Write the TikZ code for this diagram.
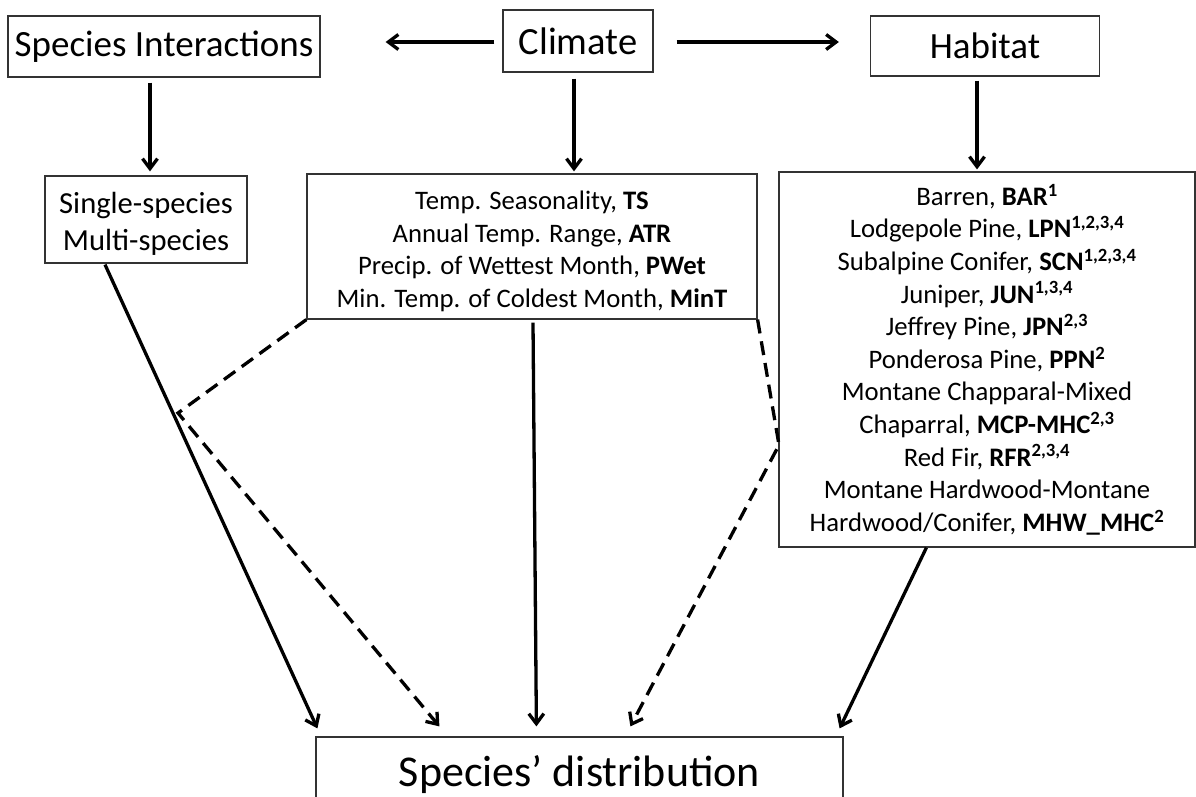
\documentclass[tikz,border=0pt]{standalone}
\usepackage{fontspec}
\setmainfont{Carlito}
\usetikzlibrary{arrows.meta,calc}

\begin{document}
\begin{tikzpicture}[x=1pt,y=-1pt,
  box/.style={draw=black!80, line width=1.2pt, inner sep=0pt, align=center},
  arr/.style={line width=3.3pt, -{Straight Barb[length=10pt,width=15pt]}},
  dsh/.style={arr, dash pattern=on 14pt off 8pt},
  big/.style={font=\fontsize{37}{44}\selectfont},
  huge/.style={font=\fontsize{44}{52}\selectfont},
  mid/.style={font=\fontsize{26.7}{32.6}\selectfont},
  midl/.style={font=\fontsize{30.6}{37}\selectfont},
]
\useasboundingbox (0,0) rectangle (1196,797);
\clip (0,0) rectangle (1196,797);

% top row
\node[box,big,minimum width=312pt,minimum height=61pt] (si) at (164,46.5) {Species Interactions};
\node[box,big,font=\fontsize{38.5}{44}\selectfont,minimum width=150pt,minimum height=62pt] (clim) at (578,41) {Climate};
\node[box,big,minimum width=229pt,minimum height=60pt] (hab) at (985,46) {Habitat};

% second row
\node[box,minimum width=202pt,minimum height=87pt] (single) at (146,219.5) {};
\node[midl,align=center,inner sep=0pt] (singletxt) at ($(single.center)+(0,4)$)
  {Single-species\\Multi-species};
\node[box,minimum width=450pt,minimum height=145pt] (climd) at (532,246.5) {};
\node[mid,align=center,inner sep=0pt] (climtxt) at ($(climd.center)+(0,5)$)
  {Temp. Seasonality, \textbf{TS}\\
   Annual Temp. Range, \textbf{ATR}\\
   Precip. of Wettest Month, \textbf{PWet}\\
   Min. Temp. of Coldest Month, \textbf{MinT}};
\node[box,mid,minimum width=416pt,minimum height=375pt] (habd) at (987,359.5)
  {Barren, \textbf{BAR\textsuperscript{1}}\\
   Lodgepole Pine, \textbf{LPN\textsuperscript{1,2,3,4}}\\
   Subalpine Conifer, \textbf{SCN\textsuperscript{1,2,3,4}}\\
   Juniper, \textbf{JUN\textsuperscript{1,3,4}}\\
   Jeffrey Pine, \textbf{JPN\textsuperscript{2,3}}\\
   Ponderosa Pine, \textbf{PPN\textsuperscript{2}}\\
   Montane Chapparal-Mixed\\
   Chaparral, \textbf{MCP-MHC\textsuperscript{2,3}}\\
   Red Fir, \textbf{RFR\textsuperscript{2,3,4}}\\
   Montane Hardwood-Montane\\
   Hardwood/Conifer, \textbf{MHW\_MHC\textsuperscript{2}}};

% outcome
\node[box,minimum width=527pt,minimum height=68pt] (dist) at (579.5,771) {};
\node[huge,inner sep=0pt] (disttxt) at ($(dist.center)+(0,4)$) {Species’ distribution};

% bends of the dashed connectors
\coordinate (bendL) at (178,413);
\coordinate (bendR) at (779,445);

% arrows from Climate
\draw[arr] ($(clim.west)+(-8,1)$) -- ($(clim.west -| si.east)+(65,1)$);
\draw[arr] ($(clim.east)+(23,1)$) -- ($(clim.east -| hab.west)+(-31,1)$);

% arrows down to the second row
\draw[arr] ($(si.south)+(-14,5)$) -- ($(si.south |- single.north)+(-14,-4)$);
\draw[arr] ($(clim.south)+(-4,6)$) -- ($(clim.south |- climd.north)+(-4,-2)$);
\draw[arr] ($(hab.south)+(-8,4)$) -- ($(hab.south |- habd.north)+(-8,-2)$);

% connectors into the species' distribution
\draw[arr] ($(single.south)+(-41,1)$) -- ($(dist.north west)+(2,-8)$);
\draw[arr] ($(climd.south)+(1,3)$) -- ($(dist.north west)+(221,-10)$);
\draw[dsh] (climd.south west) -- (bendL) -- ($(dist.north west)+(124,-10)$);
\draw[dsh] (climd.south east) -- (bendR) -- ($(dist.north west)+(315,-10)$);
\draw[arr] ($(habd.south west)+(148,0)$) -- ($(dist.north east)+(-4,-8)$);
\end{tikzpicture}
\end{document}
